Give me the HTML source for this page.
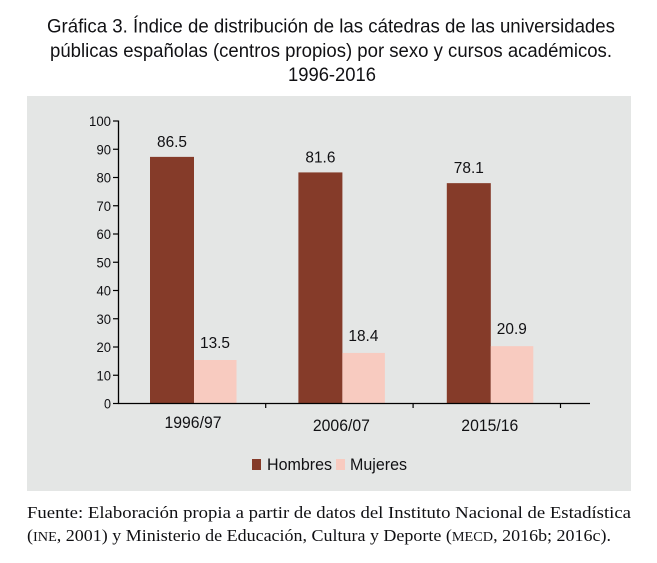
<!DOCTYPE html>
<html lang="es">
<head>
<meta charset="utf-8">
<title>Gráfica 3</title>
<style>
html,body{margin:0;padding:0;background:#fff;width:657px;height:563px;overflow:hidden}
svg{display:block}
text{fill:#111114}
.sans{font-family:"Liberation Sans",sans-serif}
.serif{font-family:"Liberation Serif",serif}
</style>
</head>
<body>
<svg id="chart" width="657" height="563" viewBox="0 0 657 563" xmlns="http://www.w3.org/2000/svg">
  <g>
    <text class="sans" x="47" y="32.5" font-size="19.5" textLength="568" lengthAdjust="spacingAndGlyphs">Gráfica 3. Índice de distribución de las cátedras de las universidades</text>
    <text class="sans" x="50" y="57" font-size="19.5" textLength="562" lengthAdjust="spacingAndGlyphs">públicas españolas (centros propios) por sexo y cursos académicos.</text>
    <text class="sans" x="288" y="81" font-size="19.5" textLength="88" lengthAdjust="spacingAndGlyphs">1996-2016</text>
  </g>
  <rect x="27" y="96" width="604" height="395" fill="#e4e6e5"></rect>
  <g id="marks"></g>
  <g>
    <rect x="252" y="459" width="9" height="11" fill="#853b29"></rect>
    <text class="sans" x="267" y="470" font-size="16.5" textLength="65" lengthAdjust="spacingAndGlyphs">Hombres</text>
    <rect x="336" y="459" width="9" height="11" fill="#f8cbc0"></rect>
    <text class="sans" x="350" y="470" font-size="16.5" textLength="57" lengthAdjust="spacingAndGlyphs">Mujeres</text>
  </g>
  <g>
    <text class="serif" x="27" y="518" font-size="17" textLength="604" lengthAdjust="spacingAndGlyphs">Fuente: Elaboración propia a partir de datos del Instituto Nacional de Estadística</text>
    <text class="serif" x="27" y="541" font-size="17" textLength="584" lengthAdjust="spacingAndGlyphs">(<tspan font-size="13.5">INE</tspan>, 2001) y Ministerio de Educación, Cultura y Deporte (<tspan font-size="13.5">MECD</tspan>, 2016b; 2016c).</text>
  </g>
</svg>
<script>
const categories = ['1996/97', '2006/07', '2015/16'];
const hombresValues = [87.3, 81.8, 78.0];
const mujeresValues = [15.4, 17.9, 20.3];
const hombresLabels = ['86.5', '81.6', '78.1'];
const mujeresLabels = ['13.5', '18.4', '20.9'];
const yTicks = [0, 10, 20, 30, 40, 50, 60, 70, 80, 90, 100];

const NS = 'http://www.w3.org/2000/svg';
const root = document.getElementById('marks');
function y(v) { return 403.5 - v * 2.825; }
function groupCenter(i) { return 193 + i * 148.4; }
function axisTick(i) { return 118.3 + (i + 1) * 147.4; }
function add(tag, attrs, text) {
  const el = document.createElementNS(NS, tag);
  for (const k in attrs) el.setAttribute(k, attrs[k]);
  if (text !== undefined) el.textContent = text;
  root.appendChild(el);
  return el;
}
const barW = 44;
categories.forEach(function (cat, i) {
  const c = groupCenter(i);
  const hb = add('rect', {x: c - barW + 1, y: y(hombresValues[i]), width: barW, height: y(0) - y(hombresValues[i]), fill: '#853b29'});
  
  
  const mb = add('rect', {x: c + 1, y: y(mujeresValues[i]), width: barW - 1.5, height: y(0) - y(mujeresValues[i]), fill: '#f8cbc0'});
  
  
  const hl = add('text', {class: 'sans', x: c - barW / 2 + 1, y: y(hombresValues[i]) - 10, 'font-size': 16, 'text-anchor': 'middle', textLength: 30, lengthAdjust: 'spacingAndGlyphs'}, hombresLabels[i]);
  
  
  const ml = add('text', {class: 'sans', x: c + barW / 2, y: y(mujeresValues[i]) - 12, 'font-size': 16, 'text-anchor': 'middle', textLength: 30, lengthAdjust: 'spacingAndGlyphs'}, mujeresLabels[i]);
  
  
  const cl = add('text', {class: 'sans', x: c, y: i === 0 ? 428 : 431, 'font-size': 16.5, 'text-anchor': 'middle', textLength: 57, lengthAdjust: 'spacingAndGlyphs'}, cat);
  
  
  const xt = add('line', {x1: axisTick(i), x2: axisTick(i), y1: 403, y2: 408, stroke: '#000', 'stroke-width': 1.2});
  
  
});
yTicks.forEach(function (t) {
  const tick = add('line', {x1: 113, x2: 118.5, y1: y(t), y2: y(t), stroke: '#000', 'stroke-width': 1.2});
  
  
  const lab = add('text', {class: 'sans', x: 111, y: y(t) + 5, 'font-size': 13.5, 'text-anchor': 'end', textLength: t === 100 ? 22 : (t === 0 ? 7 : 14.5), lengthAdjust: 'spacingAndGlyphs'}, String(t));
  
  
});
const yAxis = add('line', {x1: 118.5, x2: 118.5, y1: y(100) - 0.5, y2: y(0) + 0.5, stroke: '#000', 'stroke-width': 1.3});


const xAxis = add('line', {x1: 118, x2: 590, y1: y(0), y2: y(0), stroke: '#000', 'stroke-width': 1.3});


</script>
</body>
</html>
